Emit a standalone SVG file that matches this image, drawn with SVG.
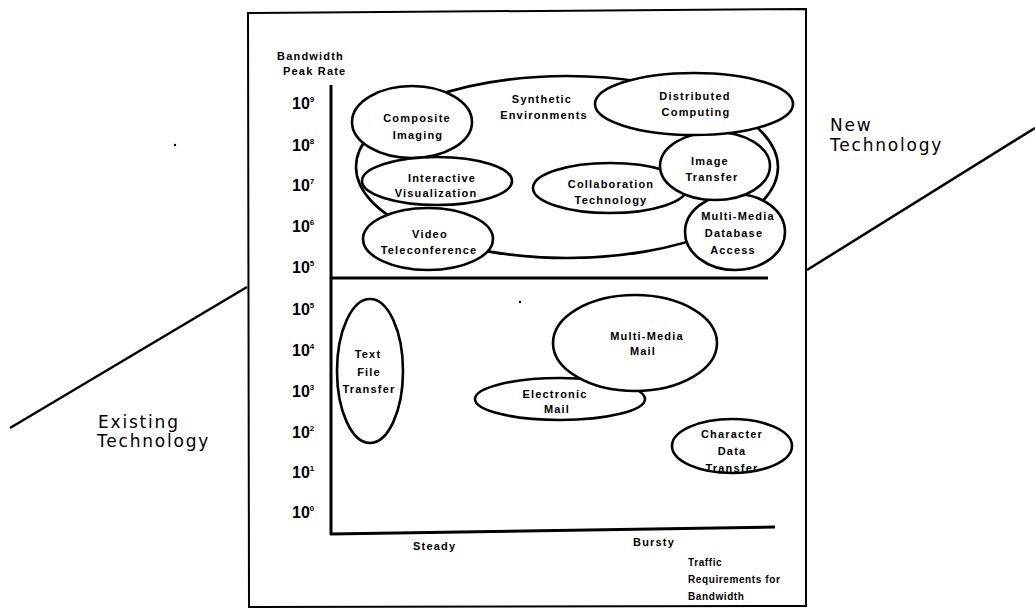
<svg xmlns="http://www.w3.org/2000/svg" width="1035" height="612" viewBox="0 0 1035 612">
<style>
.frame{fill:none;stroke:#000;stroke-width:2}
.axis{fill:none;stroke:#000;stroke-width:3}
.diag{fill:none;stroke:#000;stroke-width:2.5}
.ell{fill:#fff;stroke:#000;stroke-width:2.6}
.arc{fill:none;stroke:#000;stroke-width:2.6}
.lbl{font-family:"Liberation Sans",Arial,sans-serif;font-weight:bold;font-size:11px;letter-spacing:1.2px;text-anchor:middle;fill:#000}
.ax{font-family:"Liberation Sans",Arial,sans-serif;font-weight:bold;font-size:11px;letter-spacing:1.2px;fill:#000}
.sm{font-size:10px;letter-spacing:0.6px}
.tick{font-family:"Liberation Sans",Arial,sans-serif;font-weight:bold;font-size:16px;fill:#000}
.sup{font-size:8px}
.big{font-family:"DejaVu Sans",Arial,sans-serif;font-size:17px;letter-spacing:1.8px;fill:#000}
</style>
<rect width="1035" height="612" fill="#fff"/>
<g id="frame">
<path class="frame" d="M248,13 L806,9 L806,606 L249,607 Z"/>
</g>
<g id="connectors">
<line class="diag" x1="10" y1="428" x2="247" y2="287"/>
<line class="diag" x1="807" y1="270" x2="1035" y2="128"/>
<line class="axis" x1="331" y1="85" x2="331" y2="535"/>
<line class="axis" x1="330" y1="534" x2="775" y2="527"/>
<line class="axis" x1="331" y1="278" x2="768" y2="278"/>
</g>
<g id="axis-labels">
<text class="ax" x="277" y="60">Bandwidth</text>
<text class="ax" x="283" y="75">Peak Rate</text>
<text class="ax" x="413" y="550">Steady</text>
<text class="ax" x="633" y="546">Bursty</text>
<text class="ax sm" x="688" y="566">Traffic</text>
<text class="ax sm" x="688" y="583">Requirements for</text>
<text class="ax sm" x="688" y="600">Bandwidth</text>
</g>
<g id="ticks">
<text class="tick" x="292" y="109">10<tspan class="sup" dy="-7">9</tspan></text>
<text class="tick" x="292" y="151">10<tspan class="sup" dy="-7">8</tspan></text>
<text class="tick" x="292" y="191">10<tspan class="sup" dy="-7">7</tspan></text>
<text class="tick" x="292" y="232">10<tspan class="sup" dy="-7">6</tspan></text>
<text class="tick" x="292" y="273">10<tspan class="sup" dy="-7">5</tspan></text>
<text class="tick" x="292" y="315">10<tspan class="sup" dy="-7">5</tspan></text>
<text class="tick" x="292" y="356">10<tspan class="sup" dy="-7">4</tspan></text>
<text class="tick" x="292" y="397">10<tspan class="sup" dy="-7">3</tspan></text>
<text class="tick" x="292" y="438">10<tspan class="sup" dy="-7">2</tspan></text>
<text class="tick" x="292" y="478">10<tspan class="sup" dy="-7">1</tspan></text>
<text class="tick" x="292" y="518">10<tspan class="sup" dy="-7">0</tspan></text>
</g>
<g id="synthetic-environments">
<ellipse class="arc" cx="567" cy="167" rx="211" ry="91"/>
<text class="lbl" x="542" y="103">Synthetic</text>
<text class="lbl" x="544" y="119">Environments</text>
</g>
<g id="composite-imaging">
<ellipse class="ell" cx="412" cy="122" rx="60" ry="36"/>
<text class="lbl" x="417" y="122">Composite</text>
<text class="lbl" x="418" y="139">Imaging</text>
</g>
<g id="interactive-visualization">
<ellipse class="ell" cx="437" cy="181" rx="75" ry="24"/>
<text class="lbl" x="442" y="182">Interactive</text>
<text class="lbl" x="436" y="197">Visualization</text>
</g>
<g id="video-teleconference">
<ellipse class="ell" cx="428" cy="239" rx="65" ry="31"/>
<text class="lbl" x="430" y="238">Video</text>
<text class="lbl" x="429" y="254">Teleconference</text>
</g>
<g id="collaboration-technology">
<ellipse class="ell" cx="610" cy="188" rx="77" ry="25"/>
<text class="lbl" x="611" y="188">Collaboration</text>
<text class="lbl" x="611" y="204">Technology</text>
</g>
<g id="multimedia-database-access">
<ellipse class="ell" cx="735" cy="232" rx="50" ry="38"/>
<text class="lbl" x="738" y="220">Multi-Media</text>
<text class="lbl" x="734" y="237">Database</text>
<text class="lbl" x="733" y="254">Access</text>
</g>
<g id="image-transfer">
<ellipse class="ell" cx="715" cy="166" rx="55" ry="34"/>
<text class="lbl" x="710" y="165">Image</text>
<text class="lbl" x="712" y="181">Transfer</text>
</g>
<g id="distributed-computing">
<ellipse class="ell" cx="694" cy="104" rx="99" ry="31"/>
<text class="lbl" x="695" y="100">Distributed</text>
<text class="lbl" x="696" y="116">Computing</text>
</g>
<g id="text-file-transfer">
<ellipse class="ell" cx="370" cy="371" rx="33" ry="72"/>
<text class="lbl" x="368" y="358">Text</text>
<text class="lbl" x="369" y="376">File</text>
<text class="lbl" x="369" y="393">Transfer</text>
</g>
<g id="electronic-mail">
<ellipse class="ell" cx="560" cy="399" rx="85" ry="21"/>
<text class="lbl" x="555" y="398">Electronic</text>
<text class="lbl" x="557" y="413">Mail</text>
</g>
<g id="multimedia-mail">
<ellipse class="ell" cx="635" cy="343" rx="82" ry="48"/>
<text class="lbl" x="647" y="340">Multi-Media</text>
<text class="lbl" x="643" y="355">Mail</text>
</g>
<g id="character-data-transfer">
<ellipse class="ell" cx="732" cy="446" rx="60" ry="27"/>
<text class="lbl" x="732" y="438">Character</text>
<text class="lbl" x="732" y="455">Data</text>
<text class="lbl" x="732" y="472">Transfer</text>
</g>
<g id="existing-technology">
<text class="big" x="98" y="428">Existing</text>
<text class="big" x="97" y="447">Technology</text>
</g>
<g id="new-technology">
<text class="big" x="830" y="131">New</text>
<text class="big" x="830" y="151">Technology</text>
</g>
<g id="specks">
<circle cx="175" cy="145" r="1.2" fill="#000"/>
<circle cx="520" cy="302" r="1.2" fill="#000"/>
</g>
</svg>
